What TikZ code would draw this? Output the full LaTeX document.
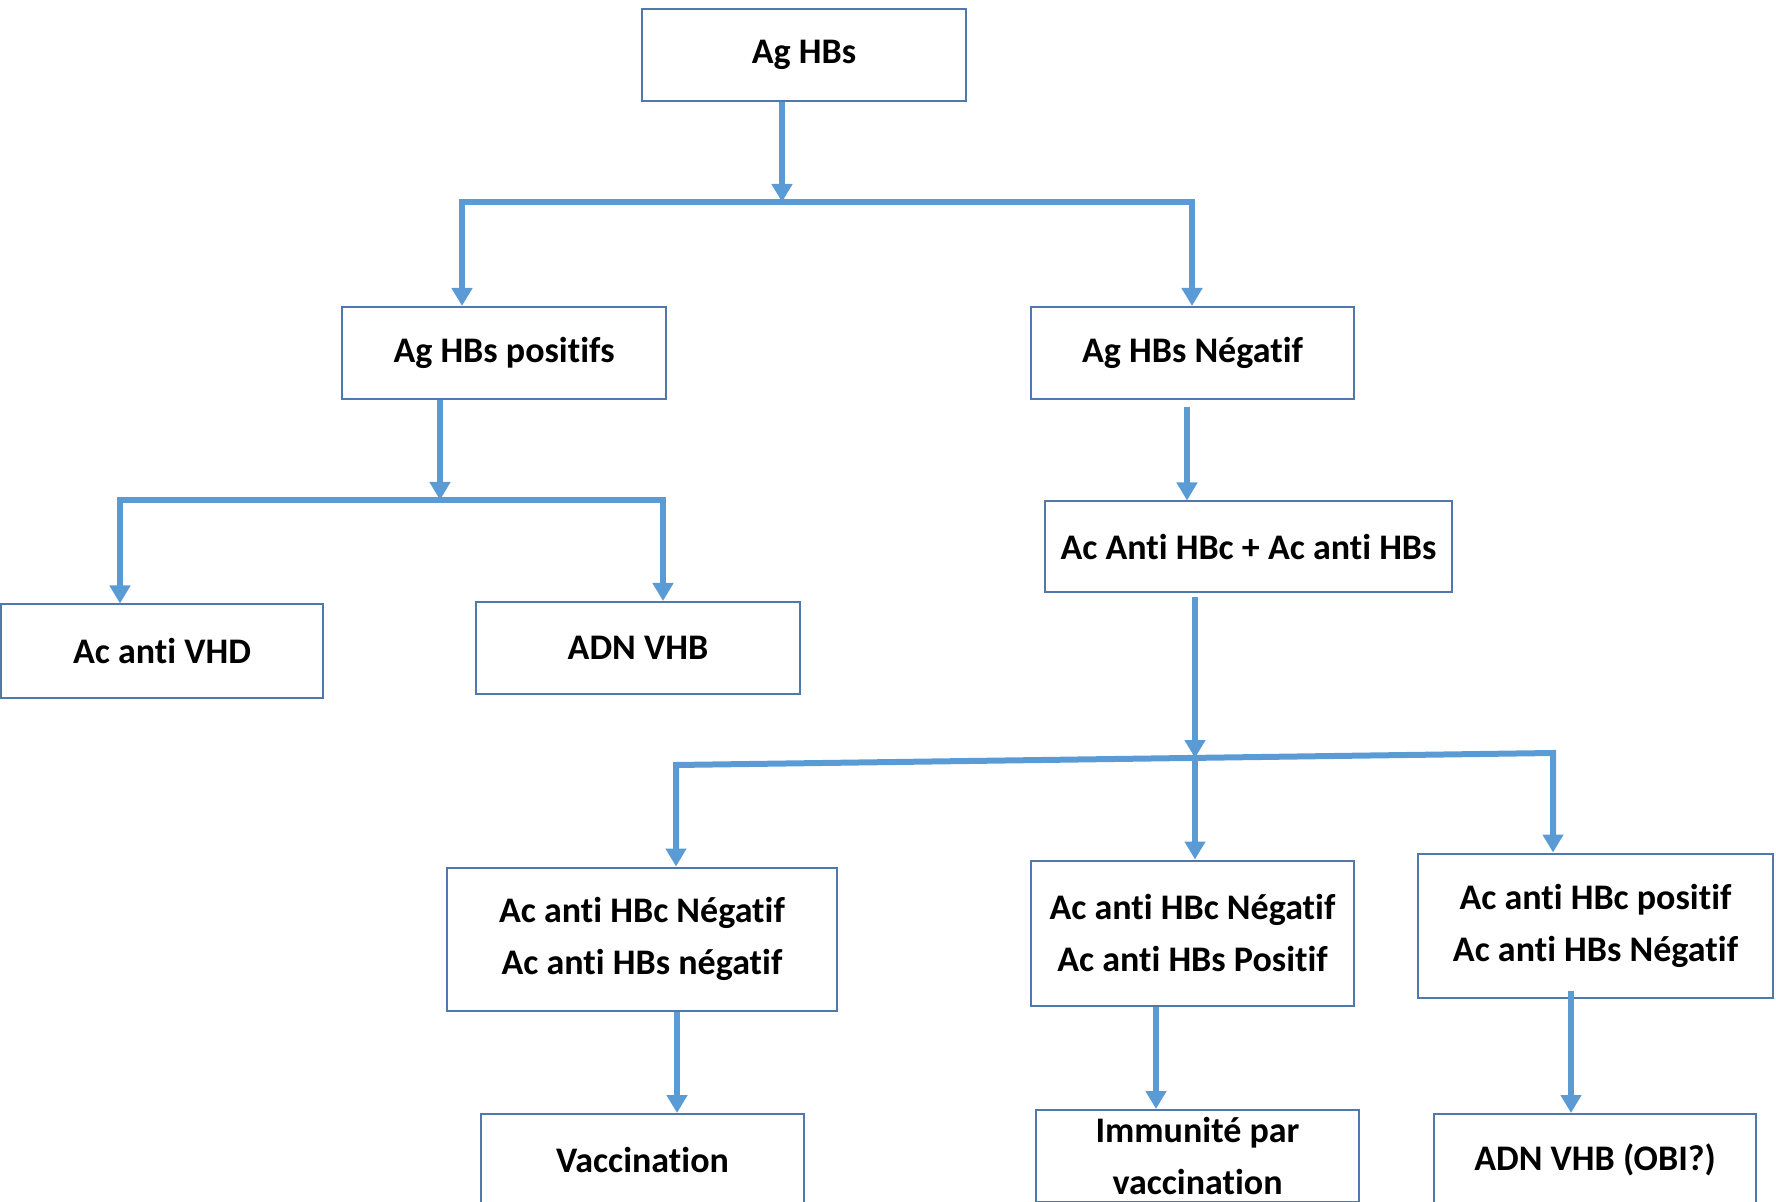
\documentclass[tikz,border=0pt]{standalone}
\usepackage{fontspec}
\setmainfont[RawFeature={-liga}]{Carlito}
\usetikzlibrary{arrows.meta,calc}
\definecolor{arrc}{RGB}{91,155,213}
\definecolor{boxc}{RGB}{80,120,170}
\begin{document}
\begin{tikzpicture}[x=0.5pt,y=-0.5pt,
  box/.style={draw=boxc, line width=1pt, inner sep=0pt, align=center,
    font=\fontsize{18}{26}\selectfont\bfseries, text=black},
  conn/.style={draw=arrc, line width=3pt},
  tip/.style={-{Triangle[width=10pt,length=9pt]}},
  tips/.style={{Triangle[width=10pt,length=9pt]}-{Triangle[width=10pt,length=9pt]}}]
\useasboundingbox (0,0) rectangle (1776,1202);
% nodes
\node[box, minimum width=162pt, minimum height=46pt] (top) at (804,55) {Ag HBs};
\node[box, minimum width=162pt, minimum height=46pt] (pos) at (504,353) {Ag HBs positifs};
\node[box, minimum width=161.5pt, minimum height=46pt] (neg) at (1192.5,353) {Ag HBs Négatif};
\node[box, minimum width=161pt, minimum height=46.5pt] (vhd) at (162,651) {Ac anti VHD};
\node[box, minimum width=162pt, minimum height=46pt] (adn) at (638,648) {ADN VHB};
\node[box, minimum width=203.5pt, minimum height=45.5pt] (acab) at (1248.5,547) {Ac Anti HBc + Ac anti HBs};
\node[box, minimum width=195pt, minimum height=71.5pt] (nA) at (642,939) {Ac anti HBc Négatif\\Ac anti HBs négatif};
\node[box, minimum width=161.5pt, minimum height=72.5pt] (nB) at (1192.5,933) {Ac anti HBc Négatif\\Ac anti HBs Positif};
\node[box, minimum width=177.5pt, minimum height=72pt] (nC) at (1595.5,925.5) {Ac anti HBc positif\\Ac anti HBs Négatif};
\node[box, minimum width=161.5pt, minimum height=46pt] (vacc) at (642.5,1160) {Vaccination};
\node[box, minimum width=161.5pt, minimum height=46pt] (imm) at (1197.5,1156) {Immunité par\\vaccination};
\node[box, minimum width=161pt, minimum height=46pt] (obi) at (1595,1160) {ADN VHB (OBI?)};
% junction coordinates
\coordinate (j1) at (782,202);
\coordinate (b1L) at (462,202);
\coordinate (b1R) at (1192,202);
\coordinate (j2) at (440,500);
\coordinate (b2L) at (120,500);
\coordinate (b2R) at (663,500);
\coordinate (j3) at (1187,0);
\coordinate (j4) at (1195,758);
\coordinate (b3L) at (676,765);
\coordinate (b3R) at (1553,753);
\coordinate (j5) at (677,0);
\coordinate (j6) at (1156,0);
\coordinate (j7) at (1571,0);
% connectors
\draw[conn,tip] (top.south -| j1) -- (j1);
\draw[conn,tips,line join=miter] (pos.north -| b1L) -- (b1L) -- (b1R) -- (neg.north -| b1R);
\draw[conn,tip] (pos.south -| j2) -- (j2);
\draw[conn,tips,line join=miter] (vhd.north -| b2L) -- (b2L) -- (b2R) -- (adn.north -| b2R);
\draw[conn,tip,shorten <=3.5pt] (neg.south -| j3) -- (acab.north -| j3);
\draw[conn,tip,shorten <=2pt] (acab.south -| j4) -- (j4);
\draw[conn,tips,line join=miter] (nA.north -| b3L) -- (b3L) -- (b3R) -- (nC.north -| b3R);
\draw[conn,tip] (j4) -- (nB.north -| j4);
\draw[conn,tip] (nA.south -| j5) -- (vacc.north -| j5);
\draw[conn,tip] (nB.south -| j6) -- (imm.north -| j6);
\draw[conn,tip] ($(nC.south -| j7)+(0,-8)$) -- (obi.north -| j7);
\end{tikzpicture}
\end{document}
